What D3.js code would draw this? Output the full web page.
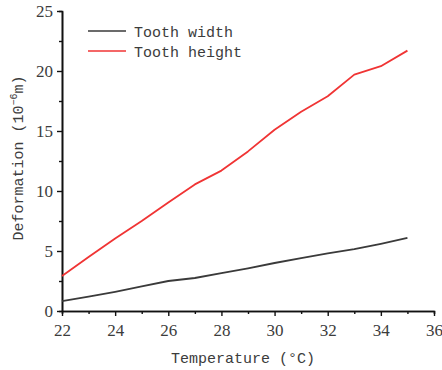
<!DOCTYPE html>
<html><head><meta charset="utf-8">
<script src="https://cdn.jsdelivr.net/npm/d3@7"></script>
<style>body{margin:0;background:#fff}svg{display:block}</style>
</head><body>
<script>
const temperature = [22,23,24,25,26,27,28,29,30,31,32,33,34,35];
const toothWidth  = [0.83,1.2,1.6,2.05,2.5,2.75,3.15,3.55,4.0,4.4,4.8,5.15,5.6,6.1];
const toothHeight = [2.92,4.5,6.05,7.5,9.05,10.55,11.7,13.3,15.1,16.6,17.9,19.7,20.4,21.7];
const xTicks = [22,24,26,28,30,32,34,36];
const yTicks = [0,5,10,15,20,25];
const seriesNames = ["Tooth width","Tooth height"];
const seriesColors = ["#3a3a3a","#f03434"];

const W=442,H=370;
const svg=d3.select("body").append("svg").attr("width",W).attr("height",H);
const x=d3.scaleLinear().domain([22,36]).range([62,434]);
const y=d3.scaleLinear().domain([0,25]).range([311,11]);
const numFont="'Liberation Serif', serif";
const txtFont="'Liberation Mono', monospace";
const txtCol="#3c3c3c";

// minor ticks
const gx=svg.append("g").attr("transform","translate(0,311)");
gx.call(d3.axisBottom(x).tickValues(d3.range(23,36,2)).tickSize(3).tickFormat(""));
const gy=svg.append("g").attr("transform","translate(62,0)");
gy.call(d3.axisLeft(y).tickValues(d3.range(2.5,25,5)).tickSize(3).tickFormat(""));
// major
const gx2=svg.append("g").attr("transform","translate(0,311)")
  .call(d3.axisBottom(x).tickValues(xTicks).tickSize(5).tickSizeOuter(0).tickPadding(8).tickFormat(d3.format("d")));
const gy2=svg.append("g").attr("transform","translate(62,0)")
  .call(d3.axisLeft(y).tickValues(yTicks).tickSize(5).tickSizeOuter(0).tickPadding(4).tickFormat(d3.format("d")));
svg.selectAll(".domain").attr("stroke","#111").attr("stroke-width",1.6);
svg.selectAll(".tick line").attr("stroke","#111").attr("stroke-width",1.4);
svg.selectAll(".tick text").attr("font-family",numFont).attr("font-size",17).attr("fill",txtCol);
gy2.selectAll(".tick text").attr("dy","0.35em");

const line=d3.line().x((d,i)=>x(temperature[i])).y(d=>y(d));
[toothWidth,toothHeight].forEach((s,k)=>{
  svg.append("path").datum(s).attr("d",line).attr("fill","none")
    .attr("stroke",seriesColors[k]).attr("stroke-width",1.8).attr("stroke-linejoin","round");
});

// legend
seriesNames.forEach((n,k)=>{
  const ly=31+k*20;
  svg.append("line").attr("x1",88).attr("x2",126).attr("y1",ly).attr("y2",ly)
    .attr("stroke",seriesColors[k]).attr("stroke-width",1.6);
  svg.append("text").attr("x",134).attr("y",ly+6).text(n)
    .attr("font-family",txtFont).attr("font-size",15).attr("fill",txtCol);
});

// axis titles
svg.append("text").attr("x",243).attr("y",363).attr("text-anchor","middle")
  .attr("font-family",txtFont).attr("font-size",15).attr("fill",txtCol).text("Temperature (°C)");
const yt=svg.append("text").attr("transform","translate(23,158) rotate(-90)").attr("text-anchor","middle")
  .attr("font-family",txtFont).attr("font-size",15).attr("fill",txtCol);
yt.append("tspan").text("Deformation (10");
yt.append("tspan").text("−6").attr("font-size",10).attr("dy",-6);
yt.append("tspan").text("m)").attr("dy",6);
</script>
</body></html>
